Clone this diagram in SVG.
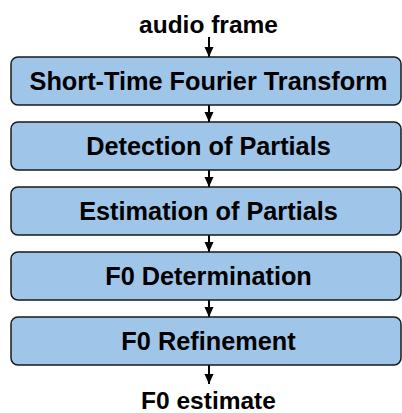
<svg xmlns="http://www.w3.org/2000/svg" width="402" height="413" viewBox="0 0 402 413">
<style>
.box{fill:#9fc5e8;stroke:#1a1a1a;stroke-width:1.5}
.t{font-family:"Liberation Sans",Arial,sans-serif;font-weight:bold;font-size:24.5px;fill:#000;text-anchor:middle}
.b{font-size:25.3px}
.c{stroke:#000;stroke-width:2;fill:none;marker-end:url(#ah)}
</style>
<defs>
<marker id="ah" markerUnits="userSpaceOnUse" markerWidth="10" markerHeight="10" viewBox="0 0 10 10" refX="10" refY="5" orient="auto">
<path d="M0,0.5 L10,5 L0,9.5 Z" fill="#000"/>
</marker>
</defs>
<text class="t" x="208.5" y="33">audio frame</text>
<text class="t" x="208.5" y="409">F0 estimate</text>
<g id="connectors">
<line class="c" x1="209" y1="37" x2="209" y2="57"/>
<line class="c" x1="209" y1="105" x2="209" y2="122"/>
<line class="c" x1="209" y1="170" x2="209" y2="187"/>
<line class="c" x1="209" y1="235" x2="209" y2="252"/>
<line class="c" x1="209" y1="300" x2="209" y2="317"/>
<line class="c" x1="209" y1="365" x2="209" y2="384"/>
</g>
<g id="stft"><rect class="box" x="11" y="57" width="390" height="48" rx="7"/><text class="t b" x="208.5" y="89.5">Short-Time Fourier Transform</text></g>
<g id="detection"><rect class="box" x="11" y="122" width="390" height="48" rx="7"/><text class="t b" x="208.5" y="154.5">Detection of Partials</text></g>
<g id="estimation"><rect class="box" x="11" y="187" width="390" height="48" rx="7"/><text class="t b" x="208.5" y="219.5">Estimation of Partials</text></g>
<g id="f0det"><rect class="box" x="11" y="252" width="390" height="48" rx="7"/><text class="t b" x="208.5" y="284.5">F0 Determination</text></g>
<g id="f0ref"><rect class="box" x="11" y="317" width="390" height="48" rx="7"/><text class="t b" x="208.5" y="349.5">F0 Refinement</text></g>
</svg>
